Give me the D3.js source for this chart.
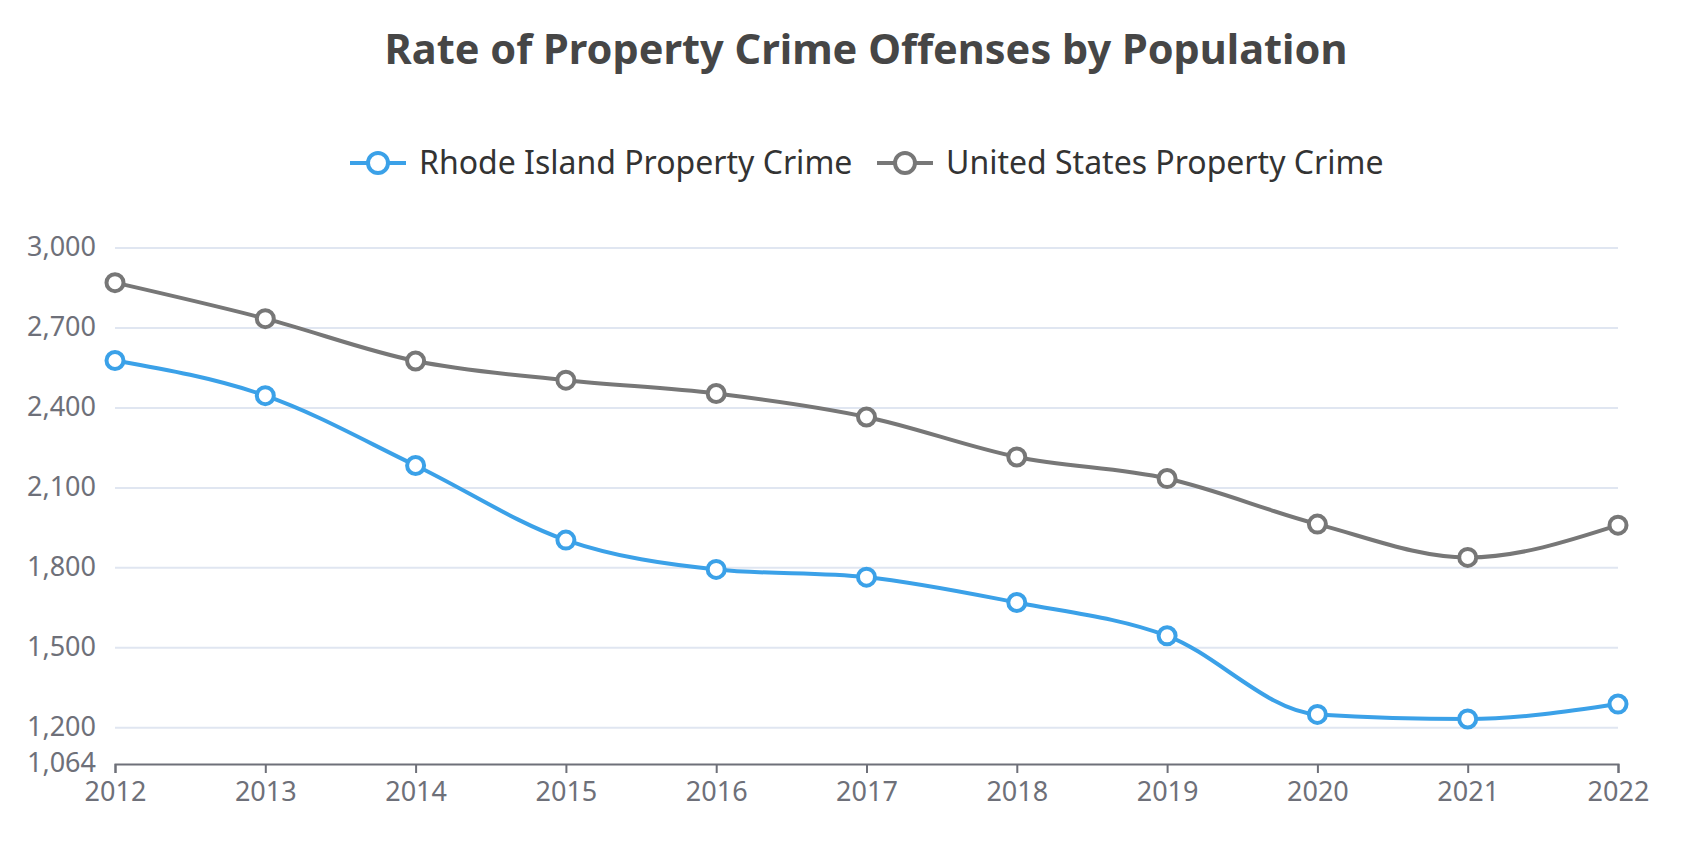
<!DOCTYPE html>
<html>
<head>
<meta charset="utf-8">
<script src="https://cdn.jsdelivr.net/npm/d3@7"></script>
<style>
  body { margin: 0; background: #fff; }
  #chart { width: 1683px; height: 846px; }
  text { font-family: "Noto Sans", "Open Sans", sans-serif; }
</style>
</head>
<body>
<div id="chart"></div>
<script>
// Rate of property crime offenses, Rhode Island vs United States

const years = ["2012", "2013", "2014", "2015", "2016", "2017", "2018", "2019", "2020", "2021", "2022"];
const rhodeIsland = [2578, 2446, 2184, 1904, 1794, 1765, 1670, 1545, 1250, 1233, 1289];
const unitedStates = [2870, 2735, 2576, 2504, 2454, 2366, 2216, 2135, 1964, 1839, 1960];
const yTicks = [1064, 1200, 1500, 1800, 2100, 2400, 2700, 3000];
const seriesNames = ["Rhode Island Property Crime", "United States Property Crime"];
const seriesColors = ["#3ba1e8", "#777777"];

function renderChart() {
    d3.select("#chart").selectAll("*").remove();

    const width = 1683;
    const height = 846;
    const margin = { top: 248, right: 65, bottom: 82, left: 115 };
    const innerWidth = width - margin.left - margin.right;
    const innerHeight = height - margin.top - margin.bottom;
    const centerX = 866;

    const svg = d3.select("#chart")
        .append("svg")
        .attr("width", width)
        .attr("height", height);

    // Title
    svg.append("text")
        .attr("x", centerX)
        .attr("y", 64)
        .attr("text-anchor", "middle")
        .attr("fill", "#464646")
        .attr("font-size", "41.5px")
        .attr("font-weight", "bold")
        .text("Rate of Property Crime Offenses by Population");

    const g = svg.append("g")
        .attr("transform", `translate(${margin.left},${margin.top})`);

    // Scales
    const x = d3.scalePoint()
        .domain(years)
        .range([0, innerWidth]);

    const y = d3.scaleLinear()
        .domain([1064, 3000])
        .range([innerHeight, 0]);

    // Grid lines
    g.append("g")
        .selectAll("line")
        .data(yTicks.filter(t => t !== 1064))
        .enter()
        .append("line")
        .attr("x1", 0)
        .attr("x2", innerWidth)
        .attr("y1", d => y(d))
        .attr("y2", d => y(d))
        .attr("stroke", "#e0e6f1")
        .attr("stroke-width", 2);

    // Y axis (labels only)
    const yAxis = g.append("g")
        .call(d3.axisLeft(y).tickValues(yTicks).tickFormat(d3.format(",")).tickSize(0).tickPadding(19));
    yAxis.select(".domain").remove();
    yAxis.selectAll("text")
        .attr("fill", "#6e7079")
        .attr("font-size", "27px")
        .attr("dy", "0.28em")
        .attr("font-family", "Noto Sans, sans-serif");

    // X axis
    const xAxis = g.append("g")
        .attr("transform", `translate(0,${innerHeight})`)
        .call(d3.axisBottom(x).tickSize(9).tickPadding(9));
    xAxis.select(".domain")
        .attr("stroke", "#6e7079")
        .attr("stroke-width", 2);
    xAxis.selectAll(".tick line")
        .attr("stroke", "#6e7079")
        .attr("stroke-width", 2);
    xAxis.selectAll("text")
        .attr("fill", "#6e7079")
        .attr("font-size", "27px")
        .attr("font-family", "Noto Sans, sans-serif");

    // Lines
    const line = d3.line()
        .x((d, i) => x(years[i]))
        .y(d => y(d))
        .curve(d3.curveMonotoneX);

    const allSeries = [rhodeIsland, unitedStates];

    allSeries.forEach((values, si) => {
        g.append("path")
            .datum(values)
            .attr("fill", "none")
            .attr("stroke", seriesColors[si])
            .attr("stroke-width", 4)
            .attr("d", line);
    });

    allSeries.forEach((values, si) => {
        g.append("g")
            .selectAll("circle")
            .data(values)
            .enter()
            .append("circle")
            .attr("cx", (d, i) => x(years[i]))
            .attr("cy", d => y(d))
            .attr("r", 8.5)
            .attr("fill", "#fff")
            .attr("stroke", seriesColors[si])
            .attr("stroke-width", 4);
    });

    // Legend
    const legendY = 163;
    const legendItems = [
        { name: seriesNames[0], color: seriesColors[0], x: 350 },
        { name: seriesNames[1], color: seriesColors[1], x: 877 }
    ];
    legendItems.forEach(item => {
        const lg = svg.append("g").attr("transform", `translate(${item.x},${legendY})`);
        lg.append("line")
            .attr("x1", 0)
            .attr("x2", 56)
            .attr("stroke", item.color)
            .attr("stroke-width", 4);
        lg.append("circle")
            .attr("cx", 28)
            .attr("r", 10)
            .attr("fill", "#fff")
            .attr("stroke", item.color)
            .attr("stroke-width", 4);
        lg.append("text")
            .attr("x", 69)
            .attr("y", 0)
            .attr("dy", "0.35em")
            .attr("fill", "#333")
            .attr("font-size", "32px")
            .text(item.name);
    });
}

renderChart();
</script>
</body>
</html>
